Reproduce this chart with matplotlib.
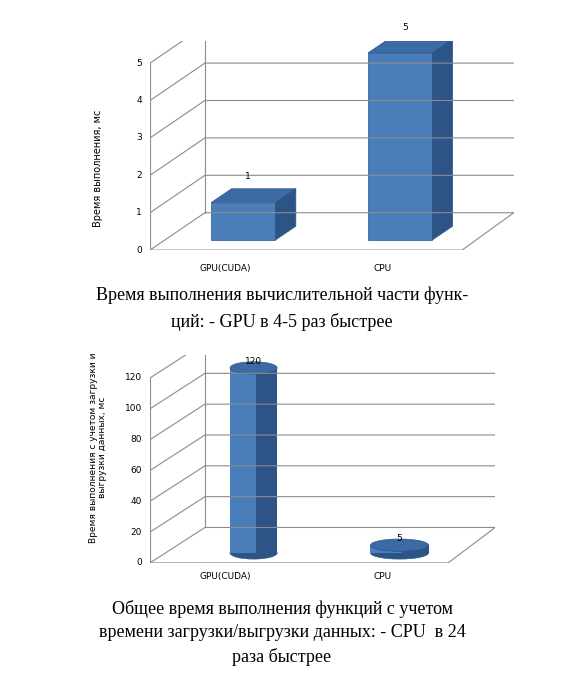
import matplotlib.pyplot as plt
from matplotlib.patches import Polygon, Ellipse, Rectangle

categories = ['GPU(CUDA)', 'CPU']
compute_ms = [1, 5]
total_ms = [120, 5]
top_ticks = [0, 1, 2, 3, 4, 5]
bottom_ticks = [0, 20, 40, 60, 80, 100, 120]

FRONT = '#4a7ebb'
SIDE = '#2c5486'
TOP = '#3c6aa5'
GRID = '#8c8c8c'

plt.rcParams['font.family'] = ['DejaVu Sans']
fig = plt.figure(figsize=(5.64, 6.89), dpi=100)


def frame(ax, ticks, xmax, dx, dy, floor_end):
    top = ticks[-1]
    for t in ticks:
        ax.plot([0, dx, xmax], [t, t + dy, t + dy], color=GRID, lw=0.8)
        ax.text(-0.05, t, str(t), ha='right', va='center', fontsize=6.5)
    ax.plot([0, 0], [0, top], color=GRID, lw=0.8)
    ax.plot([dx, dx], [dy, top + dy], color=GRID, lw=0.8)
    ax.plot([0, floor_end, xmax], [0, 0, dy], color=GRID, lw=0.8)
    ax.set_xlim(0, xmax)
    ax.axis('off')


# top chart: prism bars
ax1 = fig.add_axes([0.266, 0.637, 0.645, 0.304])
ax1.set_ylim(0, 5.6)
frame(ax1, top_ticks, 2.32, 0.35, 1.0, 1.99)
w, base, ox, oy = 0.41, 0.27, 0.13, 0.37
for i, v in enumerate(compute_ms):
    x0 = i + 0.39
    ax1.add_patch(Rectangle((x0, base), w, v, fc=FRONT, ec=SIDE, lw=0.5))
    ax1.add_patch(Polygon([(x0, base + v), (x0 + w, base + v), (x0 + w + ox, base + v + oy), (x0 + ox, base + v + oy)],
                          fc=TOP, ec=SIDE, lw=0.5))
    ax1.add_patch(Polygon([(x0 + w, base), (x0 + w + ox, base + oy), (x0 + w + ox, base + v + oy), (x0 + w, base + v)],
                          fc=SIDE, ec=SIDE, lw=0.5))
    ax1.text(x0 + w / 2 + 0.03, base + v + oy + 0.25, str(v), ha='center', fontsize=6.5)
    ax1.text(i + 0.48, -0.5, categories[i], ha='center', va='center', fontsize=6.5)
ax1.text(-0.33, 2.2, 'Время выполнения, мс', rotation=90, ha='center', va='center', fontsize=7)

# bottom chart: cylinders
ax2 = fig.add_axes([0.266, 0.183, 0.612, 0.302])
ax2.set_ylim(0, 135)
frame(ax2, bottom_ticks, 2.2, 0.35, 23, 1.9)
w, base, eh = 0.30, 6.5, 8
for i, v in enumerate(total_ms):
    xc = i + 0.66 if i == 0 else i + 0.59
    cw = w if i == 0 else 0.37
    ax2.add_patch(Ellipse((xc, base), cw, eh, fc=SIDE, ec=SIDE, lw=0.5))
    ax2.add_patch(Rectangle((xc - cw / 2, base), cw * 0.55, v, fc=FRONT, ec='none'))
    ax2.add_patch(Rectangle((xc - cw / 2 + cw * 0.55, base), cw * 0.45, v, fc=SIDE, ec='none'))
    ax2.add_patch(Ellipse((xc, base + v), cw, eh, fc=TOP, ec=SIDE, lw=0.5))
    ax2.text(xc, base + v + 2.5, str(v), ha='center', fontsize=6.5)
    ax2.text(i + 0.48, -9, categories[i], ha='center', va='center', fontsize=6.5)
ax2.text(-0.33, 75, 'Время выполнения с учетом загрузки и\nвыгрузки данных, мс', rotation=90,
         ha='center', va='center', fontsize=6.5, linespacing=1.0)

serif = ['Liberation Serif', 'DejaVu Serif']
fig.text(0.5, 1 - 295 / 689, 'Время выполнения вычислительной части функ-', ha='center', va='center',
         fontsize=13, family=serif)
fig.text(0.5, 1 - 322 / 689, 'ций: - GPU в 4-5 раз быстрее', ha='center', va='center', fontsize=13, family=serif)
fig.text(0.5, 1 - 633 / 689, 'Общее время выполнения функций с учетом\nвремени загрузки/выгрузки данных: - CPU  в 24\nраза быстрее',
         ha='center', va='center', fontsize=13, family=serif, linespacing=1.45)

fig.savefig('out.png', dpi=100)
